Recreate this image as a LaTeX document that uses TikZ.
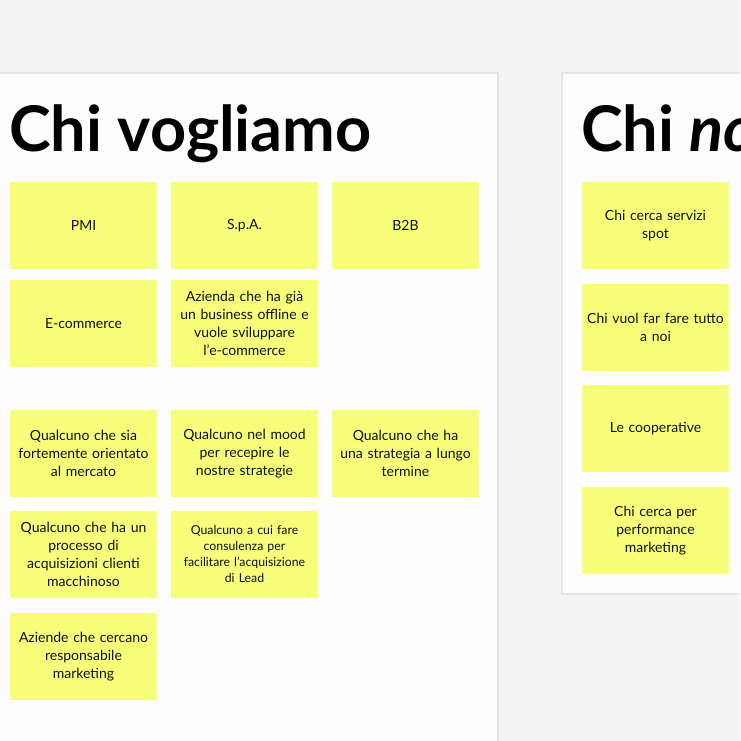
\documentclass[tikz,border=0pt]{standalone}
\usepackage{fontspec}
\setmainfont{Lato}
\definecolor{bgc}{HTML}{F4F4F4}
\definecolor{framefill}{HTML}{FDFDFD}
\definecolor{frameline}{HTML}{E6E6E6}
\definecolor{sticky}{HTML}{F7FF7A}
\definecolor{inkc}{HTML}{111111}
\tikzset{
  note/.style={fill=sticky, draw=none, minimum width=147pt, minimum height=87pt, inner sep=0pt,
    text width=144pt, align=center, text=inkc, font=\fontsize{14}{18}\selectfont},
  smallnote/.style={note, font=\fontsize{12.3}{16}\selectfont},
  frame/.style={fill=framefill, draw=frameline, line width=2pt},
  titletext/.style={anchor=base west, inner sep=0pt, font=\fontsize{63}{63}\selectfont\bfseries, text=black}
}
\begin{document}
\begin{tikzpicture}[x=1pt,y=-1pt]
\useasboundingbox (0,0) rectangle (740,741);
\clip (0,0) rectangle (740,741);
\fill[bgc] (0,0) rectangle (740,741);
\draw[frame] (-10,73) rectangle (498,760);
\draw[frame] (562,73) rectangle (760,594);
\node[titletext] (t1) at (9,151) {Chi vogliamo};
\node[titletext] (t2) at (581,151) {Chi \textit{non} vogliamo};
% left column notes
\node[note] (n11) at (83.5,225.5) {PMI};
\node[note] (n12) at (244.5,225.5) {S.p.A.};
\node[note] (n13) at (405.5,225.5) {B2B};
\node[note] (n21) at (83.5,323.5) {E-commerce};
\node[note] (n22) at (244.5,323.5) {Azienda che ha già\\un business offline e\\vuole sviluppare\\l'e-commerce};
\node[note] (n31) at (83.5,453.5) {Qualcuno che sia\\fortemente orientato\\al mercato};
\node[note] (n32) at (244.5,453.5) {Qualcuno nel mood\\per recepire le\\nostre strategie};
\node[note] (n33) at (405.5,453.5) {Qualcuno che ha\\una strategia a lungo\\termine};
\node[note] (n41) at (83.5,554.5) {Qualcuno che ha un\\processo di\\acquisizioni clienti\\macchinoso};
\node[smallnote] (n42) at (244.5,554.5) {Qualcuno a cui fare\\consulenza per\\facilitare l'acquisizione\\di Lead};
\node[note] (n51) at (83.5,656.5) {Aziende che cercano\\responsabile\\marketing};
% right column notes
\node[note] (m1) at (655.5,225.5) {Chi cerca servizi\\spot};
\node[note] (m2) at (655.5,327.5) {Chi vuol far fare tutto\\a noi};
\node[note] (m3) at (655.5,428.5) {Le cooperative};
\node[note] (m4) at (655.5,530.5) {Chi cerca per\\performance\\marketing};
\end{tikzpicture}
\end{document}
